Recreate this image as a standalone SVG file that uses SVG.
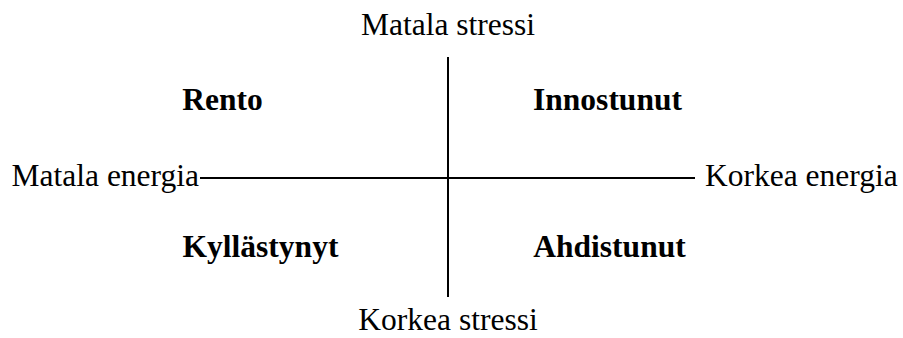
<svg xmlns="http://www.w3.org/2000/svg" width="903" height="338" viewBox="0 0 903 338">
<style>
text{font-family:"Liberation Serif","Times New Roman",serif;font-size:31.5px;fill:#000}
.b{font-weight:bold}
.ax{stroke:#000;stroke-width:2;fill:none}
</style>
<rect width="903" height="338" fill="#fff"/>
<g id="connectors">
<line class="ax" x1="448" y1="57" x2="448" y2="297"/>
<line class="ax" x1="200" y1="178" x2="695" y2="178"/>
</g>
<g id="top"><text x="448" y="35" text-anchor="middle">Matala stressi</text></g>
<g id="bottom"><text x="448" y="330" text-anchor="middle">Korkea stressi</text></g>
<g id="left"><text x="199" y="186" text-anchor="end">Matala energia</text></g>
<g id="right"><text x="705" y="186">Korkea energia</text></g>
<g id="rento"><text class="b" x="222.5" y="110" text-anchor="middle">Rento</text></g>
<g id="innostunut"><text class="b" x="607.5" y="110" text-anchor="middle">Innostunut</text></g>
<g id="kyllastynyt"><text class="b" x="260.5" y="257" text-anchor="middle">Kyllästynyt</text></g>
<g id="ahdistunut"><text class="b" x="609.5" y="257" text-anchor="middle">Ahdistunut</text></g>
</svg>
